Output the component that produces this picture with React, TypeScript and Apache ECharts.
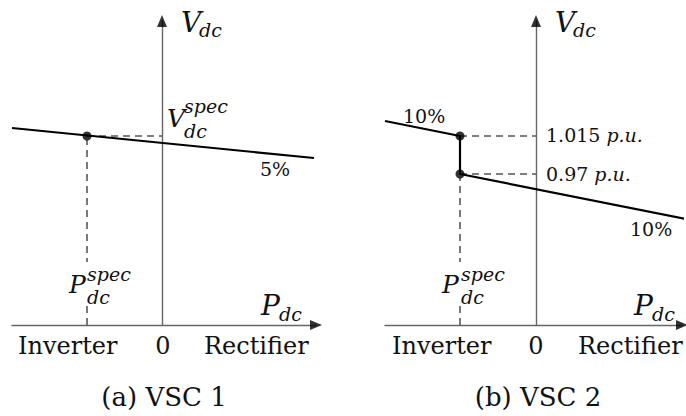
import React, { useEffect, useRef } from "react";
import * as echarts from "echarts";

// ---- data (schematic units: P along x, V along y; 0 = axes origin) ----
const xRangeA = [-150, 154];
const xRangeB = [-151, 146];
const yRange = [0, 304];

// VSC 1: single 5% droop line through the set-point
const droopA = [[-150, 197], [152, 167]];
const setPointA = [[-75, 189]];
const guideHA = [[-75, 189], [0, 189]];
const guideVA = [[-75, 0], [-75, 185]];

// VSC 2: 10% droop with a dead band between 0.97 and 1.015 p.u.
const droopB = [[-151, 204], [-76, 189], [-76, 151], [150, 106]];
const setPointsB = [[-76, 189], [-76, 151]];
const guideHB1 = [[-76, 189], [0, 189]];
const guideHB2 = [[-76, 151], [0, 151]];
const guideVB = [[-76, 0], [-76, 147]];

const regionLabels = ["Inverter", "0", "Rectifier"];
const captions = ["(a) VSC 1", "(b) VSC 2"];
const droopLabelsA = ["5%"];
const droopLabelsB = ["10%", "10%"];
const voltageLabelsB = ["1.015", "0.97"];

const FAMILY = "DejaVu Serif";

function t(x: number, baseline: number, text: string, size: number, italic = false, align = "left") {
  const style: any = {
    text,
    fontFamily: FAMILY,
    fontSize: size,
    fill: "#111",
    align,
    verticalAlign: "middle",
  };
  if (italic) style.fontStyle = "italic";
  return { type: "text", x, y: baseline - 0.34 * size, z: 10, style };
}

function pu(x: number, baseline: number, num: string) {
  const size = 19;
  return {
    type: "text",
    x,
    y: baseline - 0.34 * size,
    z: 10,
    style: {
      text: `{n|${num}} {i|p.u.}`,
      fontFamily: FAMILY,
      fontSize: size,
      fill: "#111",
      align: "left",
      verticalAlign: "middle",
      rich: {
        n: { fontFamily: FAMILY, fontSize: size, fill: "#111" },
        i: { fontFamily: FAMILY, fontSize: size, fontStyle: "italic", fill: "#111" },
      },
    },
  };
}

function whiteRect(x: number, y: number, w: number, h: number) {
  return { type: "rect", shape: { x, y, width: w, height: h }, style: { fill: "#fff" }, z: 9 };
}

const AXIS_COLOR = "#666";

function axisPair(left: number, width: number, range: number[]) {
  return {
    grid: { left, top: 21, width, height: 304 },
    x: {
      type: "value",
      min: range[0],
      max: range[1],
      axisLine: { show: true, onZero: true, lineStyle: { color: AXIS_COLOR, width: 1.4 } },
      axisTick: { show: false },
      axisLabel: { show: false },
      splitLine: { show: false },
    },
    y: {
      type: "value",
      min: yRange[0],
      max: yRange[1],
      axisLine: { show: true, onZero: true, lineStyle: { color: AXIS_COLOR, width: 1.4 } },
      axisTick: { show: false },
      axisLabel: { show: false },
      splitLine: { show: false },
    },
  };
}

function lineSeries(data: number[][], idx: number, color: string, width: number, dashed: boolean) {
  return {
    type: "line",
    xAxisIndex: idx,
    yAxisIndex: idx,
    data,
    symbol: "none",
    clip: false,
    silent: true,
    lineStyle: { color, width, type: dashed ? [7, 5] : "solid" },
    z: dashed ? 3 : 4,
  };
}

function dotSeries(data: number[][], idx: number) {
  return {
    type: "scatter",
    xAxisIndex: idx,
    yAxisIndex: idx,
    data,
    symbol: "circle",
    symbolSize: 9,
    clip: false,
    itemStyle: { color: "#000" },
    z: 6,
  };
}

function arrowSeries(idx: number, xMax: number) {
  return [
    {
      type: "scatter",
      xAxisIndex: idx,
      yAxisIndex: idx,
      data: [[0, yRange[1]]],
      symbol: "triangle",
      symbolSize: [10, 12],
      clip: false,
      itemStyle: { color: "#000" },
      z: 7,
    },
    {
      type: "scatter",
      xAxisIndex: idx,
      yAxisIndex: idx,
      data: [[xMax, 0]],
      symbol: "triangle",
      symbolSize: [10, 12],
      symbolRotate: -90,
      clip: false,
      itemStyle: { color: "#000" },
      z: 7,
    },
  ];
}

export default function App() {
  const ref = useRef<HTMLDivElement>(null);
  useEffect(() => {
    if (!ref.current) return;
    const chart = echarts.init(ref.current, undefined, { renderer: "svg" });
    const a = axisPair(12, 304, xRangeA);
    const b = axisPair(385, 297, xRangeB);

    const graphic: any[] = [
      // panel (a)
      t(181, 32, "V", 28, true),
      t(199, 36, "dc", 19, true),
      t(167, 127, "V", 25, true),
      t(184, 112, "spec", 19, true),
      t(184, 137, "dc", 19, true),
      t(260, 175, droopLabelsA[0], 19),
      whiteRect(66, 262, 72, 44),
      t(69, 293, "P", 25, true),
      t(87, 280, "spec", 19, true),
      t(87, 303, "dc", 19, true),
      t(261, 315, "P", 28, true),
      t(279, 320, "dc", 19, true),
      t(18, 354, regionLabels[0], 24),
      t(163, 354, regionLabels[1], 24, false, "center"),
      t(204, 354, regionLabels[2], 24),
      t(164, 406, captions[0], 26, false, "center"),
      // panel (b)
      t(555, 32, "V", 28, true),
      t(573, 36, "dc", 19, true),
      t(403, 122, droopLabelsB[0], 19),
      pu(546, 141, voltageLabelsB[0]),
      pu(546, 180, voltageLabelsB[1]),
      t(630, 235, droopLabelsB[1], 19),
      whiteRect(439, 262, 72, 44),
      t(442, 293, "P", 25, true),
      t(461, 280, "spec", 19, true),
      t(461, 303, "dc", 19, true),
      t(634, 315, "P", 28, true),
      t(652, 320, "dc", 19, true),
      t(392, 354, regionLabels[0], 24),
      t(536, 354, regionLabels[1], 24, false, "center"),
      t(578, 354, regionLabels[2], 24),
      t(538, 406, captions[1], 26, false, "center"),
    ];

    chart.setOption({
      animation: false,
      backgroundColor: "#fff",
      grid: [a.grid, b.grid],
      xAxis: [
        { ...a.x, gridIndex: 0 },
        { ...b.x, gridIndex: 1 },
      ],
      yAxis: [
        { ...a.y, gridIndex: 0 },
        { ...b.y, gridIndex: 1 },
      ],
      series: [
        lineSeries(guideHA, 0, "#555", 1.3, true),
        lineSeries(guideVA, 0, "#333", 1.3, true),
        lineSeries(droopA, 0, "#000", 2.2, false),
        dotSeries(setPointA, 0),
        ...arrowSeries(0, xRangeA[1]),
        lineSeries(guideHB1, 1, "#555", 1.3, true),
        lineSeries(guideHB2, 1, "#555", 1.3, true),
        lineSeries(guideVB, 1, "#333", 1.3, true),
        lineSeries(droopB, 1, "#000", 2.2, false),
        dotSeries(setPointsB, 1),
        ...arrowSeries(1, xRangeB[1]),
      ],
      graphic,
    });
    return () => chart.dispose();
  }, []);
  return (
    <div
      ref={ref}
      style={{ position: "absolute", left: 0, top: 0, width: 686, height: 416, background: "#fff" }}
    />
  );
}
